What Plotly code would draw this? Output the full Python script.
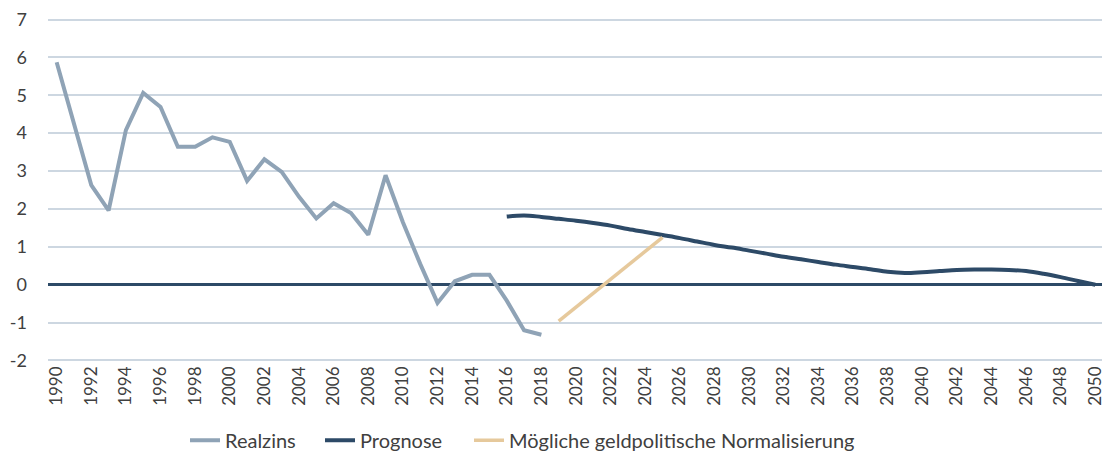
import plotly.graph_objects as go

years_real = list(range(1990, 2019))
realzins = [5.87, 4.25, 2.63, 1.96, 4.08, 5.06, 4.69, 3.64, 3.64, 3.89, 3.77, 2.74, 3.31, 2.98,
            2.32, 1.75, 2.15, 1.89, 1.32, 2.89, 1.65, 0.55, -0.48, 0.09, 0.26, 0.26, -0.42, -1.2, -1.32]

years_prog = list(range(2016, 2051))
prognose = [1.80, 1.83, 1.79, 1.74, 1.69, 1.63, 1.56, 1.47, 1.39, 1.31, 1.23, 1.14, 1.05, 0.98,
            0.90, 0.82, 0.74, 0.67, 0.60, 0.53, 0.47, 0.41, 0.34, 0.31, 0.33, 0.36, 0.39, 0.40,
            0.40, 0.39, 0.36, 0.29, 0.20, 0.10, 0.0]

years_norm = [2019, 2025]
normal = [-0.96, 1.25]

xtick_years = list(range(1990, 2051, 2))

c_real = "#8fa3b6"
c_prog = "#2d4a67"
c_norm = "#e6c99c"
font_fam = "Lato, 'Open Sans', sans-serif"

# page body has an 8px default margin; figure sized to fit the window
W, H = 1102, 447
L, R, T, B = 40, 6, 9.5, 92.5
pw = W - L - R
ph = H - T - B

def px(xfig):
    return (xfig - L) / pw

leg_y = (H - B - 433) / ph

fig = go.Figure()
fig.add_trace(go.Scatter(x=years_real, y=realzins, mode="lines", name="Realzins",
                         line=dict(color=c_real, width=4), legend="legend"))
fig.add_trace(go.Scatter(x=years_prog, y=prognose, mode="lines", name="Prognose",
                         line=dict(color=c_prog, width=4, shape="spline"), legend="legend2"))
fig.add_trace(go.Scatter(x=years_norm, y=normal, mode="lines", name="Mögliche geldpolitische Normalisierung",
                         line=dict(color=c_norm, width=3.5), legend="legend3"))

leg_common = dict(orientation="h", xanchor="left", y=leg_y, yanchor="middle",
                  font=dict(size=20, color="#404040"), bgcolor="rgba(0,0,0,0)")

fig.update_layout(
    width=W, height=H,
    margin=dict(l=L, r=R, t=T, b=B, autoexpand=False),
    paper_bgcolor="white", plot_bgcolor="white",
    font=dict(family=font_fam, size=18, color="#404040"),
    showlegend=True,
    legend=dict(x=px(177), **leg_common),
    legend2=dict(x=px(312), **leg_common),
    legend3=dict(x=px(461), **leg_common),
)
fig.update_xaxes(range=[1989.5, 2050.5], tickmode="array",
                 tickvals=xtick_years, ticktext=[str(y) for y in xtick_years],
                 tickangle=-90, showgrid=False, zeroline=False, showline=False, automargin=False,
                 ticks="", tickfont=dict(size=17, color="#404040"), ticklabeloverflow="allow")
fig.update_yaxes(range=[-2.04, 7.04], tickmode="linear", tick0=0, dtick=1,
                 labelalias={"\u22121": "-1", "\u22122": "-2"},
                 showgrid=True, gridcolor="#cdd7e1", gridwidth=1.5,
                 zeroline=True, zerolinecolor=c_prog, zerolinewidth=3, automargin=False,
                 ticks="", tickfont=dict(size=18, color="#404040"), ticklabelstandoff=20,
                 ticklabeloverflow="allow")

fig.write_html("out.html")
